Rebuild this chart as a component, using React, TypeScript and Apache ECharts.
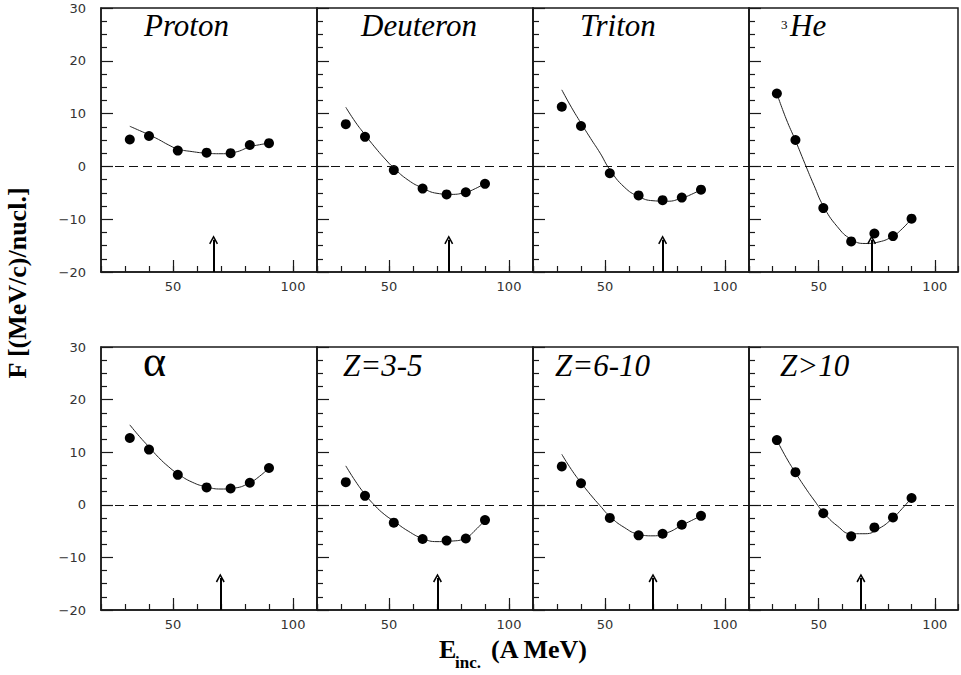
import React, { useEffect, useRef } from 'react';
import * as echarts from 'echarts';

// ---- data ----
const energies = [32, 40, 52, 64, 74, 82, 90];
const fitX = [32, 36, 40, 44, 48, 52, 58, 64, 70, 76, 82, 86, 90];

const panelNames = ['Proton', 'Deuteron', 'Triton', '³He', 'α', 'Z=3-5', 'Z=6-10', 'Z>10'];

const protonF = [5.1, 5.75, 3.0, 2.6, 2.5, 4.05, 4.4];
const deuteronF = [8.0, 5.6, -0.7, -4.2, -5.3, -4.9, -3.3];
const tritonF = [11.3, 7.65, -1.3, -5.5, -6.4, -5.9, -4.4];
const he3F = [13.8, 5.0, -7.9, -14.2, -12.7, -13.2, -9.9];
const alphaF = [12.7, 10.5, 5.7, 3.3, 3.1, 4.2, 7.0];
const z35F = [4.3, 1.7, -3.4, -6.5, -6.8, -6.4, -2.9];
const z610F = [7.3, 4.1, -2.5, -5.8, -5.5, -3.8, -2.1];
const zgt10F = [12.3, 6.2, -1.6, -6.0, -4.3, -2.4, 1.3];

const protonFit = [7.6, 6.8, 6.0, 5.1, 4.1, 3.3, 2.8, 2.5, 2.4, 2.7, 3.7, 4.1, 4.4];
const deuteronFit = [11.2, 8.4, 6.0, 3.7, 1.6, -0.3, -2.6, -4.1, -5.1, -5.3, -4.9, -4.2, -3.2];
const tritonFit = [14.5, 11.2, 8.2, 5.3, 2.5, -0.6, -3.9, -5.7, -6.5, -6.6, -6.0, -5.3, -4.4];
const he3Fit = [13.8, 9.0, 4.9, 0.6, -3.6, -7.5, -11.4, -13.8, -14.6, -14.3, -13.2, -11.8, -9.9];
const alphaFit = [15.2, 13.0, 11.0, 9.0, 7.3, 5.9, 4.3, 3.4, 3.0, 3.2, 4.2, 5.4, 7.0];
const z35Fit = [7.4, 4.5, 2.0, -0.1, -1.8, -3.1, -5.0, -6.4, -7.0, -6.9, -6.3, -4.8, -2.9];
const z610Fit = [9.6, 6.7, 4.2, 1.9, -0.2, -2.2, -4.3, -5.6, -5.9, -5.3, -3.9, -3.0, -2.1];
const zgt10Fit = [12.3, 9.0, 6.1, 3.4, 0.9, -1.4, -4.0, -5.5, -5.5, -4.5, -2.5, -0.7, 1.3];

// arrow positions (E_inc of the minimum)
const arrowX = [66.9, 74.9, 74.0, 72.8, 69.7, 70.2, 70.0, 68.2];
const arrowTip = -13.9;

const xMin = 20;
const xMax = 110;
const yMin = -20;
const yMax = 30;
const xMajorTicks = [50, 100];

const points = [protonF, deuteronF, tritonF, he3F, alphaF, z35F, z610F, zgt10F];
const fits = [protonFit, deuteronFit, tritonFit, he3Fit, alphaFit, z35Fit, z610Fit, zgt10Fit];

// ---- layout ----
const colLeft = [101, 317, 533, 749];
const rowTop = [8, 347];
const rowHeight = [264, 263];
const panelW = 216;

const CHEVRON = 'path://M0,9 L6,0 L12,9 L10.2,10 L6,3.4 L1.8,10 Z';
const tickFont = "'DejaVu Sans', sans-serif";
const serif = "'Liberation Serif', 'Times New Roman', serif";
const axisColor = '#1a1a1a';

function buildOption() {
  const grids: any[] = [];
  const xAxes: any[] = [];
  const yAxes: any[] = [];
  const series: any[] = [];

  for (let i = 0; i < 8; i++) {
    const r = Math.floor(i / 4);
    const c = i % 4;
    grids.push({
      left: colLeft[c],
      top: rowTop[r],
      width: panelW,
      height: rowHeight[r],
      show: true,
      borderColor: axisColor,
      borderWidth: 1.5,
      backgroundColor: 'transparent',
      containLabel: false,
    });
    xAxes.push({
      type: 'value',
      gridIndex: i,
      min: xMin,
      max: xMax,
      interval: 10,
      axisLine: { show: true, onZero: false, lineStyle: { color: axisColor, width: 1.5 } },
      axisTick: { show: true, inside: true, length: 6, lineStyle: { color: axisColor, width: 1.2 } },
      axisLabel: {
        show: true,
        margin: 8,
        fontFamily: tickFont,
        fontSize: 13,
        color: '#333',
        formatter: (v: number) => (xMajorTicks.indexOf(v) >= 0 ? String(v) : ''),
      },
      splitLine: { show: false },
    });
    xAxes.push({
      type: 'value',
      gridIndex: i,
      position: 'bottom',
      min: xMin,
      max: xMax,
      axisLine: { show: false, onZero: false },
      axisTick: { show: true, inside: true, length: 12, customValues: xMajorTicks, lineStyle: { color: axisColor, width: 1.2 } },
      axisLabel: { show: false },
      splitLine: { show: false },
    });
    yAxes.push({
      type: 'value',
      gridIndex: i,
      min: yMin,
      max: yMax,
      interval: 10,
      axisLine: { show: true, onZero: false, lineStyle: { color: axisColor, width: 1.5 } },
      axisTick: { show: true, inside: true, length: 12, lineStyle: { color: axisColor, width: 1.2 } },
      minorTick: { show: true, splitNumber: 4, length: 6, lineStyle: { color: axisColor, width: 1.2 } },
      axisLabel: {
        show: c === 0,
        margin: 15,
        fontFamily: tickFont,
        fontSize: 13,
        color: '#333',
        formatter: (v: number) => String(v).replace('-', '\u2212'),
      },
      splitLine: { show: false },
      minorSplitLine: { show: false },
    });

    // fitted curve + arrow marking the minimum
    series.push({
      type: 'line',
      xAxisIndex: 2 * i,
      yAxisIndex: i,
      data: fitX.map((x, k) => [x, fits[i][k]]),
      smooth: 0.5,
      showSymbol: false,
      symbol: 'none',
      silent: true,
      lineStyle: { color: '#222', width: 1 },
      z: 2,
      markLine: {
        silent: true,
        symbol: ['none', CHEVRON],
        symbolSize: 9,
        label: { show: false },
        lineStyle: { color: '#000', width: 2, type: 'solid' },
        data: [[{ coord: [arrowX[i], yMin] }, { coord: [arrowX[i], arrowTip] }]],
      },
    });
    // data points + dashed zero line
    series.push({
      type: 'scatter',
      xAxisIndex: 2 * i,
      yAxisIndex: i,
      data: energies.map((x, k) => [x, points[i][k]]),
      symbol: 'circle',
      symbolSize: 10,
      itemStyle: { color: '#000', opacity: 1 },
      silent: true,
      z: 3,
      markLine: {
        silent: true,
        symbol: ['none', 'none'],
        label: { show: false },
        lineStyle: { color: '#111', width: 1, type: [9, 5] },
        data: [{ yAxis: 0 }],
      },
    });
  }

  // panel titles
  const titleX = [144, 361, 580, 790, 143, 343, 555, 780];
  const titleBase = [35, 35, 35, 35, 375, 375, 375, 375];
  const graphics: any[] = [];
  for (let i = 0; i < 8; i++) {
    if (i === 3) {
      graphics.push({
        type: 'text', x: 781, y: 24,
        style: { text: '3', font: `13px ${serif}`, fill: '#000', align: 'left', verticalAlign: 'middle' },
      });
      graphics.push({
        type: 'text', x: titleX[i], y: titleBase[i] - 10,
        style: { text: 'He', font: `italic 31px ${serif}`, fill: '#000', align: 'left', verticalAlign: 'middle' },
      });
    } else if (i === 4) {
      graphics.push({
        type: 'text', x: titleX[i], y: titleBase[i] - 14,
        style: { text: panelNames[i], font: `44px ${serif}`, fill: '#000', align: 'left', verticalAlign: 'middle' },
      });
    } else {
      graphics.push({
        type: 'text', x: titleX[i], y: titleBase[i] - 10,
        style: { text: panelNames[i], font: `italic 31px ${serif}`, fill: '#000', align: 'left', verticalAlign: 'middle' },
      });
    }
  }
  // axis titles
  graphics.push({
    type: 'text', x: 17, y: 283, rotation: Math.PI / 2,
    style: { text: 'F [(MeV/c)/nucl.]', font: `bold 26px ${serif}`, fill: '#000', align: 'center', verticalAlign: 'middle' },
  });
  graphics.push({
    type: 'text', x: 439, y: 649,
    style: { text: 'E', font: `bold 26px ${serif}`, fill: '#000', align: 'left', verticalAlign: 'middle' },
  });
  graphics.push({
    type: 'text', x: 455, y: 662,
    style: { text: 'inc.', font: `bold 17px ${serif}`, fill: '#000', align: 'left', verticalAlign: 'middle' },
  });
  graphics.push({
    type: 'text', x: 491, y: 649,
    style: { text: '(A MeV)', font: `bold 26px ${serif}`, fill: '#000', align: 'left', verticalAlign: 'middle' },
  });

  return {
    animation: false,
    backgroundColor: '#fff',
    grid: grids,
    xAxis: xAxes,
    yAxis: yAxes,
    series,
    graphic: graphics,
  };
}

export default function App() {
  const ref = useRef<HTMLDivElement>(null);
  useEffect(() => {
    document.body.style.margin = '0';
    if (!ref.current) return;
    const chart = echarts.init(ref.current, null, { renderer: 'svg' });
    chart.setOption(buildOption() as any);
    return () => {
      chart.dispose();
    };
  }, []);
  return <div ref={ref} style={{ width: 961, height: 675, position: 'absolute', left: 0, top: 0 }} />;
}
